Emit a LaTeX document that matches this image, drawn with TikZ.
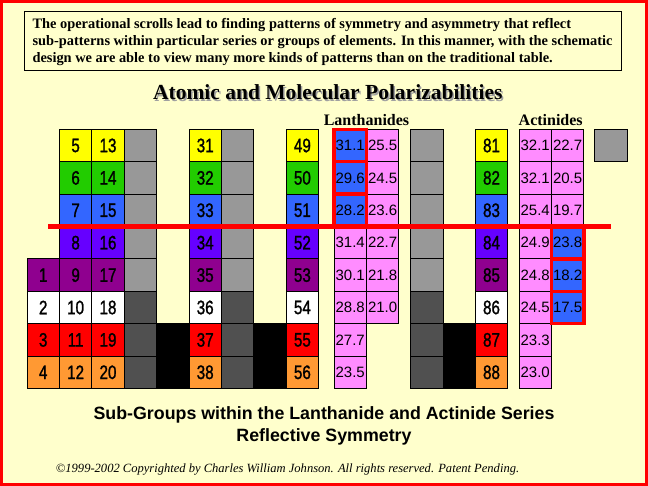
\documentclass[tikz,border=0pt]{standalone}
\usepackage{fontspec}
\setmainfont{Liberation Serif}
\newfontfamily\arialf{Liberation Sans}
\newfontfamily\narrowf[FakeStretch=0.78,FakeBold=1.2]{Liberation Sans}
\definecolor{bg}{HTML}{FFFFCC}
\definecolor{cyel}{HTML}{FFFF00}
\definecolor{cgrn}{HTML}{22CC00}
\definecolor{cblu}{HTML}{3366FF}
\definecolor{cvio}{HTML}{6600FF}
\definecolor{cpur}{HTML}{8F008F}
\definecolor{cred}{HTML}{FF0000}
\definecolor{cora}{HTML}{FF9933}
\definecolor{cpink}{HTML}{FF8CFF}
\definecolor{cgray}{HTML}{989898}
\definecolor{cdark}{HTML}{505050}
\definecolor{cshadow}{HTML}{A0A0A0}
\newcommand\numf{\narrowf\fontsize{19.5}{19.5}\selectfont}
\newcommand\decf{\arialf\fontsize{15}{15}\selectfont}
\begin{document}
\begin{tikzpicture}[x=1pt,y=-1pt,
  cell/.style={draw=black, line width=0.8pt, minimum width=32.4pt, minimum height=32.4pt,
    anchor=north west, inner sep=0pt, outer sep=0pt},
  redbox/.style={draw=cred, line width=3.5pt},
  topline/.style={anchor=base west, inner sep=0pt, font=\bfseries\fontsize{14.4}{14.4}\selectfont},
  bottomline/.style={anchor=base, inner sep=0pt, font=\arialf\bfseries\fontsize{17.8}{17.8}\selectfont},
  series/.style={anchor=base, inner sep=0pt, font=\bfseries\fontsize{16}{16}\selectfont}]
\useasboundingbox (0,0) rectangle (648,486);
\fill[bg] (0,0) rectangle (648,486);
\draw[cred, line width=3pt] (1.5,1.5) rectangle (646.5,484.5);

% top text box
\node[draw=black, line width=0.8pt, fill=bg, anchor=north west, minimum width=596.4pt,
  minimum height=59pt, inner sep=0pt] (topbox) at (24.3,11.3) {};
\node[topline] (t1) at (32.3,28.3) {The operational scrolls lead to finding patterns of symmetry and asymmetry that reflect};
\node[topline] (t2) at (32.3,45.5) {sub-patterns within particular series or groups of elements. In this manner, with the schematic};
\node[topline] (t3) at (32.3,62.7) {design we are able to view many more kinds of patterns than on the traditional table.};

% title
\node[anchor=base, inner sep=0pt, text=cshadow, font=\bfseries\fontsize{21.5}{21.5}\selectfont] (titleshadow) at (329.3,101.5) {Atomic and Molecular Polarizabilities};
\node[anchor=base, inner sep=0pt, font=\bfseries\fontsize{21.5}{21.5}\selectfont] (title) at (327.8,100) {Atomic and Molecular Polarizabilities};
\node[series] (lanth) at (366.5,125.7) {Lanthanides};
\node[series] (actin) at (550.7,125.7) {Actinides};

% element columns
\foreach \x/\nm/\a in {59.4/c1/5, 91.8/c2/13, 189/c5/31, 286.2/c8/49, 475.3/a0/81} {
  \foreach \col [count=\r] in {cyel,cgrn,cblu,cvio,cpur,white,cred,cora} {
    \pgfmathtruncatemacro\num{\a+\r-1}
    \node[cell, fill=\col, font=\numf] (\nm-\r) at (\x,{129.3+32.4*(\r-1)}) {\num};
  }
}
\foreach \col/\num [count=\r from 5] in {cpur/1, white/2, cred/3, cora/4} {
  \node[cell, fill=\col, font=\numf] (c0-\r) at (27,{129.3+32.4*(\r-1)}) {\num};
}
% gray columns
\foreach \x/\nm in {124.2/c3, 221.4/c6, 410.5/gg} {
  \foreach \r in {1,...,5} {\node[cell, fill=cgray] (\nm-\r) at (\x,{129.3+32.4*(\r-1)}) {};}
  \foreach \r in {6,7,8} {\node[cell, fill=cdark] (\nm-\r) at (\x,{129.3+32.4*(\r-1)}) {};}
}
\node[cell, fill=cgray] (gbox) at (594.5,129.3) {};
% black columns
\foreach \x/\nm in {156.6/c4, 253.8/c7, 442.9/bb} {
  \foreach \r in {7,8} {\node[cell, fill=black] (\nm-\r) at (\x,{129.3+32.4*(\r-1)}) {};}
}
% lanthanides
\foreach \v/\col [count=\r] in {31.1/cblu, 29.6/cblu, 28.2/cblu, 31.4/cpink, 30.1/cpink, 28.8/cpink, 27.7/cpink, 23.5/cpink} {
  \node[cell, fill=\col, font=\decf] (l1-\r) at (334,{129.3+32.4*(\r-1)}) {\v};
}
\foreach \v [count=\r] in {25.5, 24.5, 23.6, 22.7, 21.8, 21.0} {
  \node[cell, fill=cpink, font=\decf] (l2-\r) at (366.4,{129.3+32.4*(\r-1)}) {\v};
}
% actinides
\foreach \v [count=\r] in {32.1, 32.1, 25.4, 24.9, 24.8, 24.5, 23.3, 23.0} {
  \node[cell, fill=cpink, font=\decf] (a1-\r) at (519,{129.3+32.4*(\r-1)}) {\v};
}
\foreach \v/\col [count=\r] in {22.7/cpink, 20.5/cpink, 19.7/cpink, 23.8/cblu, 18.2/cblu, 17.5/cblu} {
  \node[cell, fill=\col, font=\decf] (a2-\r) at (551.4,{129.3+32.4*(\r-1)}) {\v};
}
% red outlines
\foreach \n in {l1-1, l1-2, l1-3, a2-4, a2-5, a2-6} {
  \draw[redbox] (\n.north west) rectangle (\n.south east);
}
% red dividing line
\coordinate (rl) at (48,226.8);
\coordinate (rr) at (611,226.8);
\draw[cred, line width=5pt] (rl) -- (rr);

% bottom text
\node[bottomline] (b1) at (324,419.3) {Sub-Groups within the Lanthanide and Actinide Series};
\node[bottomline] (b2) at (324,441.5) {Reflective Symmetry};
\node[anchor=base west, inner sep=0pt, font=\itshape\fontsize{12.55}{12.55}\selectfont] (copy) at (55.7,472) {\textcopyright1999-2002 Copyrighted by Charles William Johnson. All rights reserved. Patent Pending.};
\end{tikzpicture}
\end{document}
